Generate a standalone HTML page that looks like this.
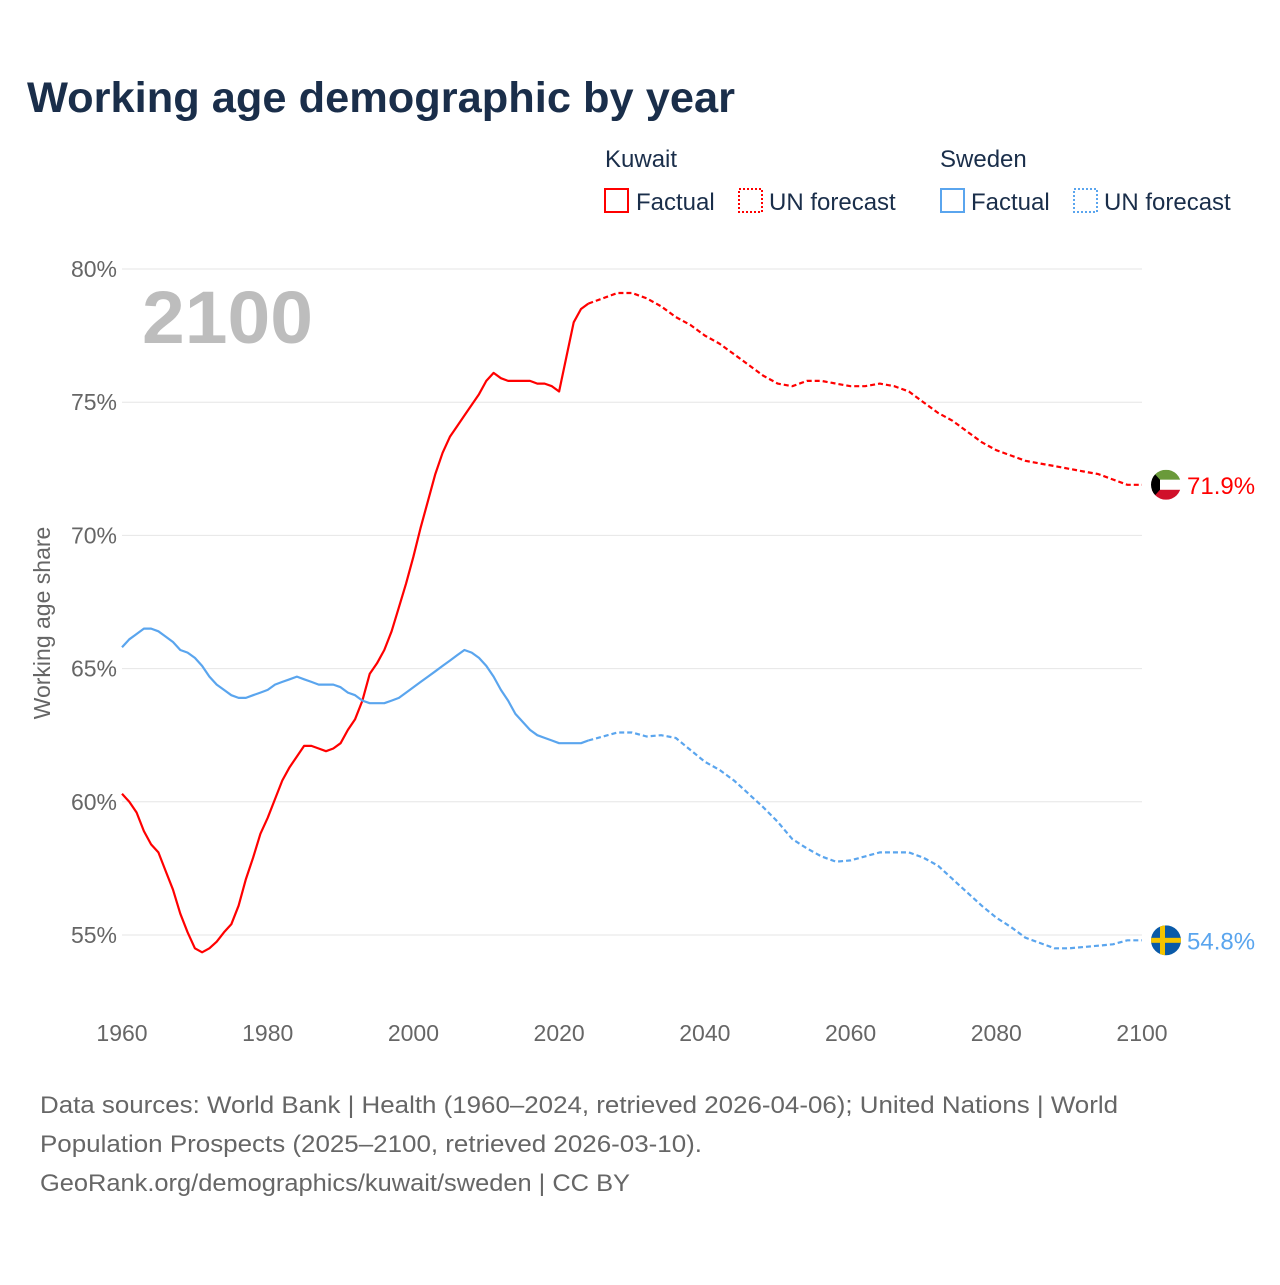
<!DOCTYPE html>
<html><head><meta charset="utf-8"><style>
body{margin:0;background:#fff;font-family:"Liberation Sans",sans-serif}
svg text{font-family:"Liberation Sans",sans-serif}
</style></head><body>
<svg id="chart" width="1280" height="1280" viewBox="0 0 1280 1280">
<text x="27" y="112" font-size="43" font-weight="bold" fill="#1a2e4a" textLength="708" lengthAdjust="spacingAndGlyphs">Working age demographic by year</text>
<g font-size="24" fill="#1a2e4a">
<text x="605" y="167">Kuwait</text>
<rect x="605" y="189" width="23" height="23" fill="none" stroke="#f00" stroke-width="2"/>
<text x="636" y="210">Factual</text>
<rect x="739" y="189" width="23" height="23" fill="none" stroke="#f00" stroke-width="2" stroke-dasharray="2,2"/>
<text x="769" y="210">UN forecast</text>
<text x="940" y="167">Sweden</text>
<rect x="941" y="189" width="23" height="23" fill="none" stroke="#5aa5ee" stroke-width="2"/>
<text x="971" y="210">Factual</text>
<rect x="1074" y="189" width="23" height="23" fill="none" stroke="#5aa5ee" stroke-width="2" stroke-dasharray="2,2"/>
<text x="1104" y="210">UN forecast</text>
</g>
<g id="grid"></g>
<text x="142" y="343" font-size="74" font-weight="bold" fill="#bdbdbd" textLength="171" lengthAdjust="spacingAndGlyphs">2100</text>
<text transform="translate(50,623) rotate(-90)" text-anchor="middle" font-size="23" fill="#666">Working age share</text>
<g id="series"></g>
<g font-size="24" fill="#666">
<text x="40" y="1113" textLength="1078" lengthAdjust="spacingAndGlyphs">Data sources: World Bank | Health (1960–2024, retrieved 2026-04-06); United Nations | World</text>
<text x="40" y="1152" textLength="662" lengthAdjust="spacingAndGlyphs">Population Prospects (2025–2100, retrieved 2026-03-10).</text>
<text x="40" y="1191" textLength="590" lengthAdjust="spacingAndGlyphs">GeoRank.org/demographics/kuwait/sweden | CC BY</text>
</g>
</svg>
<script>
const xTicks=[1960,1980,2000,2020,2040,2060,2080,2100];
const yTicks=[55,60,65,70,75,80];
const kuwaitFactYears=[1960,1961,1962,1963,1964,1965,1966,1967,1968,1969,1970,1971,1972,1973,1974,1975,1976,1977,1978,1979,1980,1981,1982,1983,1984,1985,1986,1987,1988,1989,1990,1991,1992,1993,1994,1995,1996,1997,1998,1999,2000,2001,2002,2003,2004,2005,2006,2007,2008,2009,2010,2011,2012,2013,2014,2015,2016,2017,2018,2019,2020,2021,2022,2023,2024];
const kuwaitFact=[60.3,60.0,59.6,58.9,58.4,58.1,57.4,56.7,55.8,55.1,54.5,54.35,54.5,54.75,55.1,55.4,56.1,57.1,57.9,58.8,59.4,60.1,60.8,61.3,61.7,62.1,62.1,62.0,61.9,62.0,62.2,62.7,63.1,63.8,64.8,65.2,65.7,66.4,67.3,68.2,69.2,70.3,71.3,72.3,73.1,73.7,74.1,74.5,74.9,75.3,75.8,76.1,75.9,75.8,75.8,75.8,75.8,75.7,75.7,75.6,75.4,76.7,78.0,78.5,78.7];
const forecastYears=[2024,2026,2028,2030,2032,2034,2036,2038,2040,2042,2044,2046,2048,2050,2052,2054,2056,2058,2060,2062,2064,2066,2068,2070,2072,2074,2076,2078,2080,2082,2084,2086,2088,2090,2092,2094,2096,2098,2100];
const kuwaitForecast=[78.7,78.9,79.1,79.1,78.9,78.6,78.2,77.9,77.5,77.2,76.8,76.4,76.0,75.7,75.6,75.8,75.8,75.7,75.6,75.6,75.7,75.6,75.4,75.0,74.6,74.3,73.9,73.5,73.2,73.0,72.8,72.7,72.6,72.5,72.4,72.3,72.1,71.9,71.9];
const swedenFact=[65.8,66.1,66.3,66.5,66.5,66.4,66.2,66.0,65.7,65.6,65.4,65.1,64.7,64.4,64.2,64.0,63.9,63.9,64.0,64.1,64.2,64.4,64.5,64.6,64.7,64.6,64.5,64.4,64.4,64.4,64.3,64.1,64.0,63.8,63.7,63.7,63.7,63.8,63.9,64.1,64.3,64.5,64.7,64.9,65.1,65.3,65.5,65.7,65.6,65.4,65.1,64.7,64.2,63.8,63.3,63.0,62.7,62.5,62.4,62.3,62.2,62.2,62.2,62.2,62.3];
const swedenForecast=[62.3,62.45,62.6,62.6,62.45,62.5,62.4,61.95,61.5,61.2,60.8,60.3,59.8,59.25,58.6,58.25,57.95,57.75,57.8,57.95,58.1,58.1,58.1,57.9,57.6,57.1,56.6,56.1,55.65,55.3,54.9,54.7,54.5,54.5,54.55,54.6,54.65,54.8,54.8];
const X=y=>122+(y-1960)*(1020/140);
const Y=v=>269+(80-v)*26.64;
const NS="http://www.w3.org/2000/svg";
function mk(tag,attrs,parent){const e=document.createElementNS(NS,tag);for(const k in attrs)e.setAttribute(k,attrs[k]);parent.appendChild(e);return e;}
const grid=document.getElementById('grid');
yTicks.forEach(t=>{
  const l=mk('line',{x1:122,x2:1142,y1:Y(t),y2:Y(t),stroke:'#e6e6e6','stroke-width':1},grid);
  
  
  const tx=mk('text',{x:117,y:Y(t)+8,'text-anchor':'end','font-size':23,fill:'#666'},grid);
  tx.textContent=t+'%';
  
  
});
xTicks.forEach(t=>{
  const tx=mk('text',{x:X(t),y:1041,'text-anchor':'middle','font-size':23,fill:'#666'},grid);
  tx.textContent=t;
  
  
});
const S=document.getElementById('series');
function line(xs,vs,color,dash,name){
  const d=xs.map((x,i)=>(i?'L':'M')+X(x).toFixed(1)+' '+Y(vs[i]).toFixed(1)).join(' ');
  const p=mk('path',{d:d,fill:'none',stroke:color,'stroke-width':2.2,'stroke-linejoin':'round'},S);
  if(dash)p.setAttribute('stroke-dasharray','5,3');
  
  
}
line(kuwaitFactYears,kuwaitFact,'#f00',false,'kuwait-factual-line');
line(forecastYears,kuwaitForecast,'#f00',true,'kuwait-forecast-line');
line(kuwaitFactYears,swedenFact,'#5aa5ee',false,'sweden-factual-line');
line(forecastYears,swedenForecast,'#5aa5ee',true,'sweden-forecast-line');
const kv=kuwaitForecast[kuwaitForecast.length-1], sv=swedenForecast[swedenForecast.length-1];
const ky=Y(kv), sy=Y(sv), fx=1166;
const defs=mk('defs',{},S);
const c1=mk('clipPath',{id:'kc'},defs);mk('circle',{cx:fx,cy:ky,r:15},c1);
const c2=mk('clipPath',{id:'sc'},defs);mk('circle',{cx:fx,cy:sy,r:15},c2);
const kf=mk('g',{'clip-path':'url(#kc)'},S);


mk('rect',{x:fx-15,y:ky-15,width:30,height:10,fill:'#6a9a3a'},kf);
mk('rect',{x:fx-15,y:ky-5,width:30,height:10,fill:'#fff'},kf);
mk('rect',{x:fx-15,y:ky+5,width:30,height:10,fill:'#d0102a'},kf);
mk('polygon',{points:`${fx-15},${ky-15} ${fx-6},${ky-5} ${fx-6},${ky+5} ${fx-15},${ky+15}`,fill:'#000'},kf);
const sf=mk('g',{'clip-path':'url(#sc)'},S);


mk('rect',{x:fx-15,y:sy-15,width:30,height:30,fill:'#0a5aa8'},sf);
mk('rect',{x:fx-15,y:sy-2.5,width:30,height:5,fill:'#f5c400'},sf);
mk('rect',{x:fx-6,y:sy-15,width:5,height:30,fill:'#f5c400'},sf);
const kl=mk('text',{x:1187,y:ky+9,'font-size':24,fill:'#f00'},S);
kl.textContent=kv.toFixed(1)+'%';


const sl=mk('text',{x:1187,y:sy+9,'font-size':24,fill:'#5aa5ee'},S);
sl.textContent=sv.toFixed(1)+'%';


</script>
</body></html>
